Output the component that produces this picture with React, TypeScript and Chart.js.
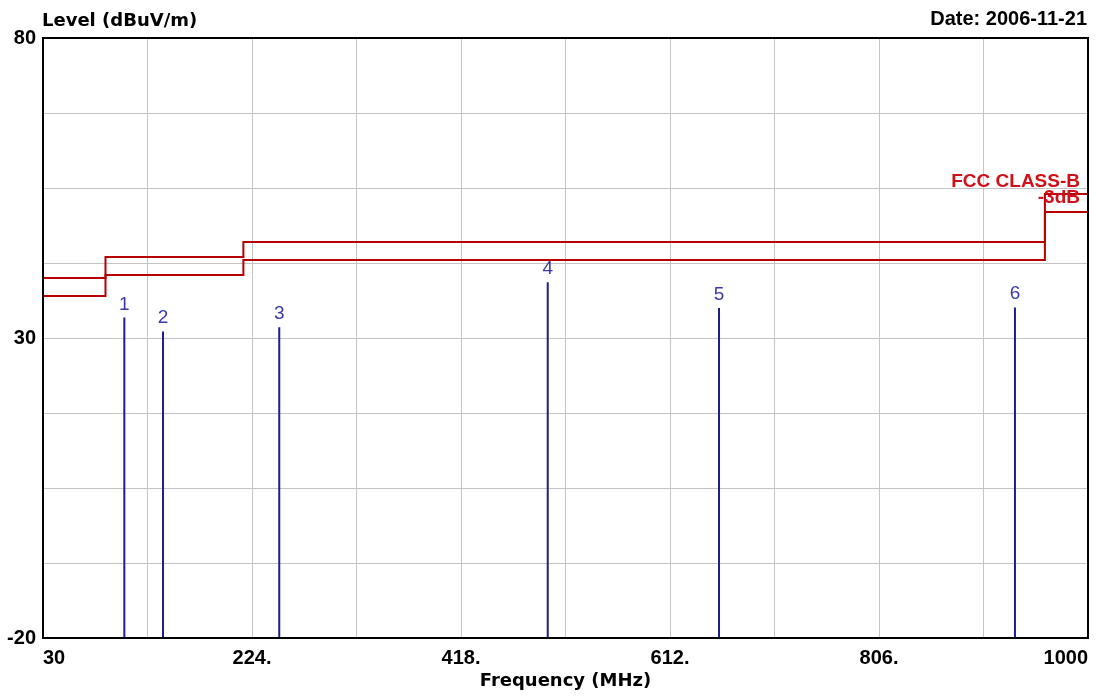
import React, { useEffect, useRef } from 'react';
import { Chart, registerables } from 'chart.js';

Chart.register(...registerables);

// ---- data ----
const xTickValues = [30, 127, 224, 321, 418, 515, 612, 709, 806, 903, 1000];
const xTickLabels = ['30', '', '224.', '', '418.', '', '612.', '', '806.', '', '1000'];
const yTickValues = [-20, -7.5, 5, 17.5, 30, 42.5, 55, 67.5, 80];
const yTickLabels = ['-20', '', '', '', '30', '', '', '', '80'];

const limitBandEdges = [30, 88, 216, 960, 1000];
const fccClassB = [40, 43.5, 46, 54];
const fccClassBMinus3 = [37, 40.5, 43, 51];

const markerIds = ['1', '2', '3', '4', '5', '6'];
const markerFreqs = [105.5, 141.4, 249.3, 498.5, 657.5, 932.2];
const markerLevels = [33.4, 31.1, 31.8, 39.3, 35.0, 35.1];

const X_MIN = 30;
const X_MAX = 1000;
const Y_MIN = -20;
const Y_MAX = 80;

const yTitle = 'Level (dBuV/m)';
const xTitle = 'Frequency (MHz)';
const dateText = 'Date: 2006-11-21';
const limitName = 'FCC CLASS-B';
const marginName = '-3dB';

const LIMIT_COLOR = '#b80000';
const LIMIT_TEXT_COLOR = '#d0101a';
const MARKER_COLOR = '#1e1e8c';
const MARKER_TEXT_COLOR = '#3a3aa8';
const GRID_COLOR = '#c4c4c4';
const SANS = '"Liberation Sans", Arial, sans-serif';
const WIDE = '"DejaVu Sans", Verdana, sans-serif';

function bandPoints(levels: number[]) {
  const pts: { x: number; y: number }[] = [];
  levels.forEach((lv, i) => {
    pts.push({ x: limitBandEdges[i], y: lv });
    pts.push({ x: limitBandEdges[i + 1], y: lv });
  });
  return pts;
}

const textPlugin = {
  id: 'emiText',
  afterDraw(chart: any) {
    const { ctx, chartArea, scales } = chart;
    const xs = scales.x;
    const ys = scales.y;
    ctx.save();
    // frame
    ctx.strokeStyle = '#000';
    ctx.lineWidth = 2;
    ctx.strokeRect(chartArea.left, chartArea.top, chartArea.right - chartArea.left, chartArea.bottom - chartArea.top);

    // header texts
    ctx.fillStyle = '#000';
    ctx.textBaseline = 'alphabetic';
    ctx.font = `bold 18px ${WIDE}`;
    ctx.textAlign = 'left';
    ctx.fillText(yTitle, chartArea.left - 1, 26);
    ctx.font = `bold 20px ${SANS}`;
    ctx.textAlign = 'right';
    ctx.fillText(dateText, chartArea.right - 1, 25);

    // limit labels
    const lastIdx = fccClassB.length - 1;
    ctx.fillStyle = LIMIT_TEXT_COLOR;
    ctx.font = `bold 19px ${SANS}`;
    ctx.textAlign = 'right';
    const rx = xs.getPixelForValue(X_MAX) - 8;
    ctx.fillText(limitName, rx, ys.getPixelForValue(fccClassB[lastIdx]) - 7);
    ctx.fillText(marginName, rx, ys.getPixelForValue(fccClassBMinus3[lastIdx]) - 9);

    // marker labels
    ctx.fillStyle = MARKER_TEXT_COLOR;
    ctx.font = `19px ${SANS}`;
    ctx.textAlign = 'center';
    markerIds.forEach((id, i) => {
      ctx.fillText(id, xs.getPixelForValue(markerFreqs[i]), ys.getPixelForValue(markerLevels[i]) - 8);
    });
    ctx.restore();
  },
};

export default function App() {
  const ref = useRef<HTMLCanvasElement | null>(null);

  useEffect(() => {
    if (!ref.current) return;
    const markerSets = markerFreqs.map((f, i) => ({
      label: 'Marker ' + markerIds[i],
      data: [
        { x: f, y: Y_MIN },
        { x: f, y: markerLevels[i] },
      ],
      borderColor: MARKER_COLOR,
      borderWidth: 2,
      pointRadius: 0,
      fill: false,
    }));
    const chart = new Chart(ref.current, {
      type: 'line',
      data: {
        datasets: [
          {
            label: limitName,
            data: bandPoints(fccClassB),
            borderColor: LIMIT_COLOR,
            borderWidth: 2,
            pointRadius: 0,
            fill: false,
          },
          {
            label: marginName,
            data: bandPoints(fccClassBMinus3),
            borderColor: LIMIT_COLOR,
            borderWidth: 2,
            pointRadius: 0,
            fill: false,
          },
          ...markerSets,
        ],
      },
      options: {
        animation: false,
        responsive: false,
        events: [],
        layout: { padding: { top: 38, right: 23, left: 0, bottom: 0 } },
        plugins: {
          legend: { display: false },
          tooltip: { enabled: false },
          title: { display: false },
        },
        scales: {
          x: {
            type: 'linear',
            min: X_MIN,
            max: X_MAX,
            afterBuildTicks: (s: any) => {
              s.ticks = xTickValues.map((v) => ({ value: v }));
            },
            afterFit: (s: any) => {
              s.height = 60;
            },
            ticks: {
              autoSkip: false,
              maxRotation: 0,
              minRotation: 0,
              align: 'inner',
              padding: 8,
              color: '#000',
              font: { family: SANS, size: 20, weight: 'bold' },
              callback: (_v: any, i: number) => xTickLabels[i],
            },
            grid: { color: GRID_COLOR, lineWidth: 1, drawTicks: false },
            border: { display: true, color: '#000', width: 2 },
            title: {
              display: true,
              text: xTitle,
              color: '#000',
              font: { family: WIDE, size: 18, weight: 'bold' },
              padding: { top: 0, bottom: 6 },
            },
          },
          y: {
            type: 'linear',
            min: Y_MIN,
            max: Y_MAX,
            afterBuildTicks: (s: any) => {
              s.ticks = yTickValues.map((v) => ({ value: v }));
            },
            afterFit: (s: any) => {
              s.width = 43;
            },
            ticks: {
              autoSkip: false,
              padding: 7,
              color: '#000',
              font: { family: SANS, size: 20, weight: 'bold' },
              callback: (_v: any, i: number) => yTickLabels[i],
            },
            grid: { color: GRID_COLOR, lineWidth: 1, drawTicks: false },
            border: { display: true, color: '#000', width: 2 },
          },
        },
      } as any,
      plugins: [textPlugin],
    });
    return () => chart.destroy();
  }, []);

  return (
    <div style={{ position: 'absolute', left: 0, top: 0, width: 1111, height: 698, background: '#fff' }}>
      <canvas ref={ref} width={1111} height={698} style={{ width: 1111, height: 698, display: 'block' }} />
    </div>
  );
}
